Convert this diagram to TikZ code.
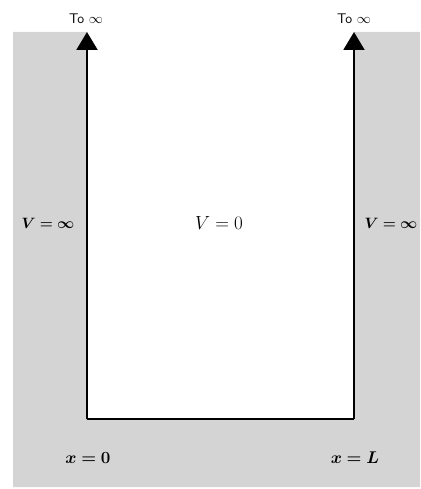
\RequirePackage{fix-cm}
\documentclass[tikz,border=0pt]{standalone}
\usepackage{tikz}
\usepackage{xcolor}
\usepackage{bm}
\usetikzlibrary{arrows.meta}
\definecolor{wallgray}{gray}{0.83}

\begin{document}
\begin{tikzpicture}[x=1pt,y=-1pt,
		wall/.style={line width=2pt},
		upward/.style={-{Triangle[length=18pt,width=21pt]}},
		midtext/.style={font=\fontsize{19}{22}\selectfont},
		sidetext/.style={font=\fontsize{15}{18}\selectfont},
		basetext/.style={font=\fontsize{17}{20}\selectfont},
		totext/.style={font=\fontsize{14}{16}\selectfont\sffamily}]
			\useasboundingbox (0,0) rectangle (420,489);
			
			% Region with infinite potential
			\fill[wallgray] (13,32) -- (87,32) -- (87,419) -- (354,419) -- (354,32)
				-- (420,32) -- (420,487) -- (13,487) -- cycle;
			
			% Corners of the well
			\coordinate (tl) at (87,32);
			\coordinate (bl) at (87,419);
			\coordinate (br) at (354,419);
			\coordinate (tr) at (354,32);
			
			% Walls
			\draw[wall] (bl) -- (br);
			\draw[wall,upward] (bl) -- (tl);
			\draw[wall,upward] (br) -- (tr);
			
			% Labels
			\node[totext] (toleft) at (86,19) {To $\infty$};
			\node[totext] (toright) at (354,19) {To $\infty$};
			\node[sidetext] (vleft) at (48,223) {$\bm{V=\infty}$};
			\node[midtext] (vin) at (219,223) {$V=0$};
			\node[sidetext] (vright) at (391,223) {$\bm{V=\infty}$};
			\node[basetext] (xzero) at (88,458) {$\bm{x=0}$};
			\node[basetext] (xell) at (355,458) {$\bm{x=L}$};
		\end{tikzpicture}
\end{document}
